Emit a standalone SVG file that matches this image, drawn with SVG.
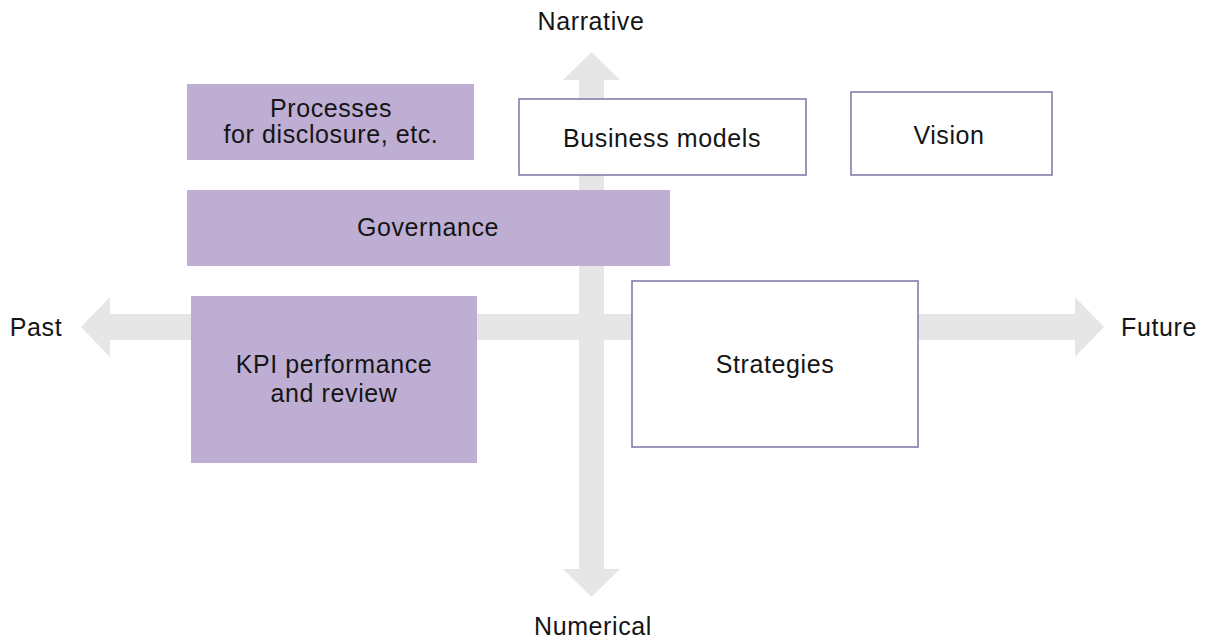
<svg xmlns="http://www.w3.org/2000/svg" width="1209" height="641" viewBox="0 0 1209 641">
<style>
text{font-family:"Liberation Sans",Arial,sans-serif;font-size:25px;letter-spacing:0.6px;fill:#151515;text-anchor:middle}
.axis{fill:#e6e6e6}
.filled{fill:#bfaed4}
.outline{fill:#ffffff;stroke:#7d74a6;stroke-width:1.5}
</style>
<rect width="1209" height="641" fill="#ffffff"/>
<g id="connectors">
<polygon class="axis" points="81,327 110,297 110,314 1075,314 1075,297 1104,327 1075,357 1075,340 110,340 110,357"/>
<polygon class="axis" points="591.5,52 620,80 604,80 604,569 620,569 591.5,597 563,569 579,569 579,80 563,80"/>
</g>
<g id="label-narrative"><text x="591" y="30">Narrative</text></g>
<g id="label-numerical"><text x="593" y="635">Numerical</text></g>
<g id="label-past"><text x="36" y="336">Past</text></g>
<g id="label-future"><text x="1159" y="336">Future</text></g>
<g id="processes">
<rect class="filled" x="187" y="84" width="287" height="76"/>
<text x="331" y="117">Processes</text>
<text x="331" y="143">for disclosure, etc.</text>
</g>
<g id="business-models">
<rect class="outline" x="519" y="99" width="287" height="76"/>
<text x="662" y="147">Business models</text>
</g>
<g id="vision">
<rect class="outline" x="851" y="92" width="201" height="83"/>
<text x="949" y="144">Vision</text>
</g>
<g id="governance">
<rect class="filled" x="187" y="190" width="483" height="76"/>
<text x="428" y="236">Governance</text>
</g>
<g id="kpi">
<rect class="filled" x="191" y="296" width="286" height="167"/>
<text x="334" y="373">KPI performance</text>
<text x="334" y="402">and review</text>
</g>
<g id="strategies">
<rect class="outline" x="632" y="281" width="286" height="166"/>
<text x="775" y="373">Strategies</text>
</g>
</svg>
